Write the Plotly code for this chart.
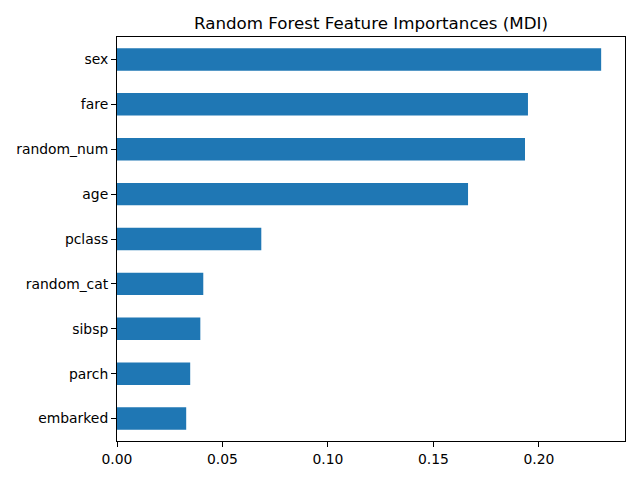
import plotly.graph_objects as go

features = ["embarked", "parch", "sibsp", "random_cat", "pclass", "age", "random_num", "fare", "sex"]
importances = [0.0328, 0.0347, 0.0395, 0.0409, 0.0684, 0.1664, 0.1934, 0.1948, 0.2295]
x_ticks = [0.0, 0.05, 0.10, 0.15, 0.20]
x_tick_labels = ["0.00", "0.05", "0.10", "0.15", "0.20"]

fig = go.Figure(go.Bar(
    x=importances, y=features, orientation="h", width=0.5,
    marker=dict(color="#1f77b4", line=dict(width=0)),
))

fig.update_layout(
    width=640, height=480,
    margin=dict(l=117, r=15, t=37, b=39, pad=0),
    paper_bgcolor="white", plot_bgcolor="white",
    showlegend=False,
    title=dict(
        text="Random Forest Feature Importances (MDI)",
        font=dict(family="DejaVu Sans", size=16.7, color="black"),
        x=0.5, xref="paper", xanchor="center",
        y=1 - 23 / 480, yref="container", yanchor="middle",
    ),
)
fig.update_xaxes(
    range=[0, 0.2408], tickvals=x_ticks, ticktext=x_tick_labels,
    showline=True, linecolor="#000000", linewidth=1, mirror=True,
    ticks="outside", ticklen=5, tickwidth=1, tickcolor="#000000",
    showgrid=False, zeroline=False,
    tickfont=dict(family="DejaVu Sans", size=13.9, color="black"),
)
fig.update_yaxes(
    range=[-0.5, 8.5], type="category", categoryorder="array", categoryarray=features,
    showline=True, linecolor="#000000", linewidth=1, mirror=True,
    ticks="outside", ticklen=5, tickwidth=1, tickcolor="#000000",
    showgrid=False, zeroline=False,
    tickfont=dict(family="DejaVu Sans", size=13.9, color="black"),
)

fig.write_html("out.html", config={"displayModeBar": False},
               post_script="document.body.style.margin='0';document.body.style.padding='0';")
